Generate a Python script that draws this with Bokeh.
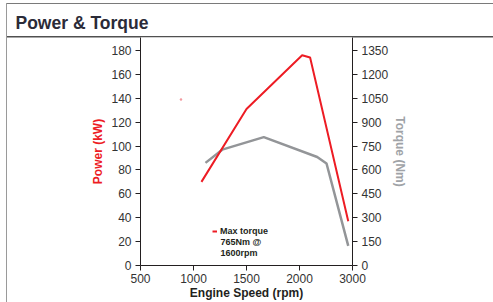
from bokeh.plotting import figure
from bokeh.models import (Range1d, LinearAxis, FixedTicker, Label, Title,
                          Legend, LegendItem)
from bokeh.embed import file_html
from bokeh.resources import INLINE

# ---- data ----
rpm_power = [1075, 1500, 2025, 2100, 2460]
power_kw = [70, 131, 176, 174, 37]
rpm_torque = [1113, 1271, 1663, 2167, 2255, 2460]
torque_nm = [644, 727, 806, 681, 640, 123]
stray_rpm = [882]
stray_kw = [139]
rpm_ticks = [500, 1000, 1500, 2000, 2500]
rpm_tick_labels = ["500", "1000", "1500", "2000", "3000"]
kw_ticks = [0, 20, 40, 60, 80, 100, 120, 140, 160, 180]
nm_ticks = [0, 150, 300, 450, 600, 750, 900, 1050, 1200, 1350]

RED = "#ed1c24"
GREY = "#939598"
DARK = "#231f20"
FONT = "Liberation Sans"
W, H = 493, 302

# frame placement (page pixels) and ranges
FL, FR, FT, FB = 140, 352, 37, 266
X0, X1 = 500, 2500
Y0, Y1 = 0, 190.8


def dx(px):
    return X0 + (px - FL) * (X1 - X0) / (FR - FL)


def dy(py):
    return Y0 + (FB - py) * (Y1 - Y0) / (FB - FT)


p = figure(width=W, height=H, output_backend="svg", toolbar_location=None,
           x_range=Range1d(X0, X1), y_range=Range1d(Y0, Y1),
           min_border_left=FL, min_border_right=W - FR,
           min_border_top=FT, min_border_bottom=H - FB)

# box / header rules of the panel drawn behind the transparent canvas
p.styles = {
    "background-image": ("linear-gradient(#9a9a9a,#9a9a9a),"
                         "linear-gradient(#7a7a7a,#7a7a7a),"
                         "linear-gradient(#505050,#505050)"),
    "background-size": "1px 299px, 487px 1px, 487px 1.5px",
    "background-position": "6px 3px, 6px 3px, 6px 36px",
    "background-repeat": "no-repeat",
}
p.border_fill_color = None
p.background_fill_color = "white"
p.outline_line_color = None
p.xgrid.visible = False
p.ygrid.visible = False

p.title = Title(text="Power & Torque", align="left", offset=15 - FL, standoff=10,
                text_font=FONT, text_font_size="17.5px", text_font_style="bold",
                text_color="#2b2b38")

p.extra_y_ranges = {"torque": Range1d(0, Y1 * 7.5)}
p.add_layout(LinearAxis(y_range_name="torque"), "right")

for ax in p.axis:
    ax.axis_line_color = DARK
    ax.axis_line_width = 1
    ax.major_tick_line_color = DARK
    ax.major_tick_out = 5
    ax.major_tick_in = 0
    ax.minor_tick_line_color = None
    ax.major_label_text_font = FONT
    ax.major_label_text_font_size = "12px"
    ax.major_label_text_color = "#333333"
    ax.major_label_standoff = 4
    ax.axis_label_text_font = FONT
    ax.axis_label_text_font_size = "12px"
    ax.axis_label_text_font_style = "bold"

xax = p.xaxis[0]
xax.ticker = FixedTicker(ticks=rpm_ticks)
xax.major_label_overrides = {t: l for t, l in zip(rpm_ticks, rpm_tick_labels)}
xax.axis_label = "Engine Speed (rpm)"
xax.axis_label_text_color = DARK
xax.major_label_standoff = 3
xax.axis_label_standoff = 0

left = p.yaxis[0]
left.ticker = FixedTicker(ticks=kw_ticks)
left.axis_label = "Power (kW)"
left.axis_label_text_color = RED
left.axis_label_standoff = 3

right = p.yaxis[1]
right.ticker = FixedTicker(ticks=nm_ticks)
right.axis_label = "Torque (Nm)"
right.axis_label_text_color = "#a0a3a7"
right.axis_label_standoff = 2

# ---- series ----
r_torque = p.line(rpm_torque, torque_nm, y_range_name="torque",
                  line_color=GREY, line_width=2.5)
r_power = p.line(rpm_power, power_kw, line_color=RED, line_width=2)
p.scatter(stray_rpm, stray_kw, size=2.5, color="#f39aa0", line_color=None)

legend = Legend(items=[LegendItem(label="Max torque", renderers=[r_power])],
                location=(72, 29), glyph_width=5, glyph_height=10,
                label_standoff=3, padding=0, margin=0, spacing=0,
                border_line_color=None, background_fill_alpha=0,
                label_text_font=FONT, label_text_font_size="9px",
                label_text_font_style="bold", label_text_color=DARK,
                label_height=10)
p.add_layout(legend)
p.add_layout(Label(x=dx(220), y=dy(237.5), text="765Nm @\n1600rpm",
                   text_font=FONT, text_font_size="9px", text_font_style="bold",
                   text_color=DARK, text_baseline="top", text_line_height=1.1))

open("out.html", "w").write(file_html(p, INLINE))
